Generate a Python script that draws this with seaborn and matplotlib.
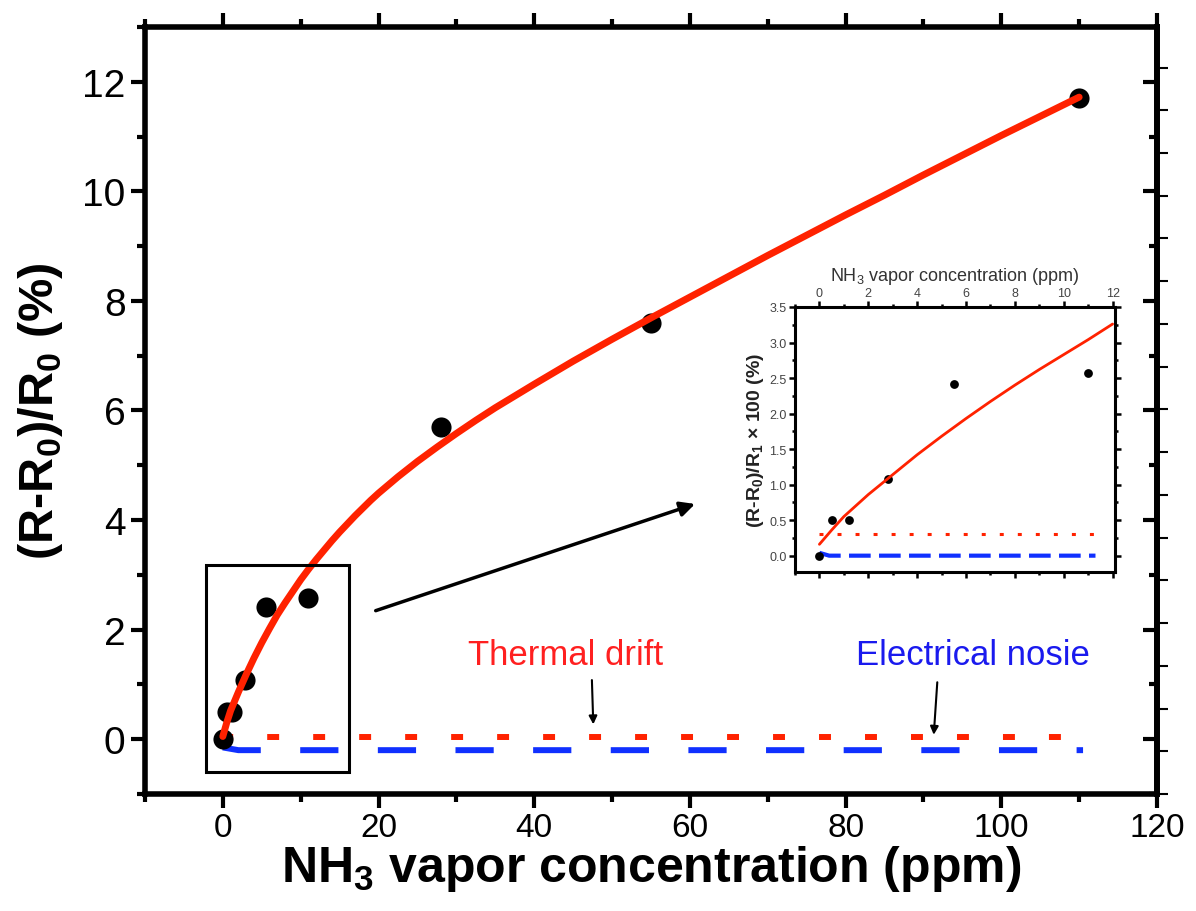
import numpy as np
import pandas as pd
import matplotlib
matplotlib.use("Agg")
import matplotlib.pyplot as plt
from matplotlib.ticker import MultipleLocator, FixedLocator, FormatStrFormatter
from matplotlib.patches import Rectangle
import seaborn as sns

# ---------------- data ----------------
conc = [0, 0.5, 1.2, 2.8, 5.5, 11, 28, 55, 110]
resp = [0, 0.5, 0.5, 1.08, 2.42, 2.57, 5.7, 7.6, 11.7]

fit_x = [0, 0.5, 1, 2, 3, 4, 5, 6, 7, 8, 9, 10, 11, 12, 13, 14, 15, 16, 17,
         18, 19, 20, 22.5, 25, 27.5, 30, 32.5, 35, 40, 45, 50, 55, 60, 65,
         70, 75, 80, 85, 90, 95, 100, 105, 110]
fit_y = [0.05, 0.3, 0.52, 0.86, 1.18, 1.48, 1.76, 2.02, 2.27, 2.49, 2.70,
         2.91, 3.10, 3.28, 3.45, 3.62, 3.78, 3.93, 4.08, 4.22, 4.36, 4.49,
         4.79, 5.07, 5.33, 5.58, 5.82, 6.05, 6.48, 6.90, 7.30, 7.69, 8.07,
         8.45, 8.83, 9.20, 9.57, 9.93, 10.30, 10.66, 11.02, 11.37, 11.72]

drift_x = [0, 110]
drift_y = [0.04, 0.04]
noise_x = [0, 2, 110.5]
noise_y = [-0.15, -0.2, -0.2]

in_conc = [0, 0.5, 1.2, 2.8, 5.5, 11]
in_resp = [0, 0.5, 0.5, 1.08, 2.42, 2.57]
in_fit_x = [0, 0.5, 1, 2, 3, 4, 5, 6, 7, 8, 9, 10, 11, 12]
in_fit_y = [0.16, 0.36, 0.55, 0.86, 1.14, 1.42, 1.68, 1.93, 2.17, 2.40, 2.62,
            2.83, 3.04, 3.26]
in_drift_x = [0, 11.7]
in_drift_y = [0.3, 0.3]
in_noise_x = [0, 0.4, 11.3]
in_noise_y = [0.04, 0.0, 0.0]

xticks_main = [0, 20, 40, 60, 80, 100, 120]
yticks_main = [0, 2, 4, 6, 8, 10, 12]
xticks_in = [0, 2, 4, 6, 8, 10, 12]
yticks_in = [0.0, 0.5, 1.0, 1.5, 2.0, 2.5, 3.0, 3.5]

RED = "#ff2200"
BLUE = "#1030ff"

# ---------------- style ----------------
sns.set_theme(style="ticks")
plt.rcParams["font.family"] = ["Liberation Sans", "DejaVu Sans"]
plt.rcParams["mathtext.fontset"] = "custom"
plt.rcParams["mathtext.rm"] = "Liberation Sans"
plt.rcParams["mathtext.bf"] = "Liberation Sans:bold"
for k in ["axes.edgecolor", "xtick.color", "ytick.color", "text.color",
          "axes.labelcolor"]:
    plt.rcParams[k] = "black"

fig = plt.figure(figsize=(11.96, 9.12), dpi=100)
ax = fig.add_axes([0.1212, 0.1283, 0.8462, 0.8410])

main_df = pd.DataFrame({"conc": conc, "resp": resp})
sns.scatterplot(data=main_df, x="conc", y="resp", ax=ax, s=210, color="black",
                edgecolor="black", linewidth=0, zorder=3)
sns.lineplot(x=drift_x, y=drift_y, ax=ax, color=RED, lw=4.3, sort=False,
             estimator=None, zorder=2)
ax.lines[-1].set_linestyle((0.3, (2.0, 5.7)))
sns.lineplot(x=noise_x, y=noise_y, ax=ax, color=BLUE, lw=4.3, sort=False,
             estimator=None, zorder=2)
ax.lines[-1].set_linestyle((0, (6.4, 6.6)))
sns.lineplot(x=fit_x, y=fit_y, ax=ax, color=RED, lw=5, sort=False,
             estimator=None, zorder=4)
ax.lines[-1].set_solid_joinstyle("round")

ax.set_xlim(-10, 120)
ax.set_ylim(-1, 13)
ax.xaxis.set_major_locator(FixedLocator(xticks_main))
ax.xaxis.set_minor_locator(MultipleLocator(10))
ax.yaxis.set_major_locator(FixedLocator(yticks_main))
ax.yaxis.set_minor_locator(MultipleLocator(1))
ax.tick_params(axis="x", which="both", direction="out", top=True, bottom=True,
               width=3, labelsize=24, pad=3)
ax.tick_params(axis="y", which="both", direction="out", left=True, right=False,
               width=3, labelsize=28, pad=4)
ax.tick_params(which="major", length=10)
ax.tick_params(which="minor", length=6)
for sp in ax.spines.values():
    sp.set_linewidth(4)
    sp.set_visible(True)

# right-side ticks (inward at the main positions, outward at a finer step)
sec_in = ax.secondary_yaxis("right")
sec_in.yaxis.set_major_locator(FixedLocator(yticks_main))
sec_in.yaxis.set_minor_locator(MultipleLocator(1))
sec_in.tick_params(which="both", direction="in", width=3, labelright=False)
sec_in.tick_params(which="major", length=10)
sec_in.tick_params(which="minor", length=6)
sec_in.spines["right"].set_linewidth(4)
sec_out = ax.secondary_yaxis("right")
sec_out.yaxis.set_major_locator(FixedLocator(list(np.arange(-1, 12.5, 0.78))))
sec_out.tick_params(which="major", direction="out", width=1.5, length=8,
                    labelright=False)
sec_out.spines["right"].set_linewidth(4)

ax.set_xlabel("NH$_\\mathbf{3}$ vapor concentration (ppm)", fontsize=36,
              fontweight="bold", labelpad=0)
ax.set_ylabel("(R-R$_\\mathbf{0}$)/R$_\\mathbf{0}$ (%)", fontsize=35,
              fontweight="bold", labelpad=12)

# zoom box and arrow
ax.add_patch(Rectangle((-2.2, -0.6), 18.4, 3.78, fill=False, lw=2.2,
                       edgecolor="black", zorder=5))
ax.annotate("", xy=(61, 4.31), xytext=(19.3, 2.33),
            arrowprops=dict(arrowstyle="-|>", lw=2.5, color="black",
                            mutation_scale=22))

# labels for the baselines
ax.text(44, 1.55, "Thermal drift", color="#ff2020", fontsize=25,
        ha="center", va="center")
ax.annotate("", xy=(47.6, 0.22), xytext=(47.4, 1.13),
            arrowprops=dict(arrowstyle="-|>", lw=1.5, color="black",
                            mutation_scale=12))
ax.text(96.4, 1.55, "Electrical nosie", color="#1a1aee", fontsize=25,
        ha="center", va="center")
ax.annotate("", xy=(91.3, 0.03), xytext=(91.8, 1.09),
            arrowprops=dict(arrowstyle="-|>", lw=1.5, color="black",
                            mutation_scale=12))

# ---------------- inset ----------------
axi = fig.add_axes([0.6647, 0.3717, 0.2676, 0.2906])
in_df = pd.DataFrame({"conc": in_conc, "resp": in_resp})
sns.scatterplot(data=in_df, x="conc", y="resp", ax=axi, s=40, color="black",
                edgecolor="black", linewidth=0, zorder=3)
sns.lineplot(x=in_drift_x, y=in_drift_y, ax=axi, color=RED, lw=2.2,
             sort=False, estimator=None, zorder=2)
axi.lines[-1].set_linestyle((0, (1.3, 4.6)))
sns.lineplot(x=in_noise_x, y=in_noise_y, ax=axi, color=BLUE, lw=3,
             sort=False, estimator=None, zorder=2)
axi.lines[-1].set_linestyle((0, (5.2, 2.0)))
sns.lineplot(x=in_fit_x, y=in_fit_y, ax=axi, color=RED, lw=2, sort=False,
             estimator=None, zorder=4)

axi.set_xlim(-1, 12.1)
axi.set_ylim(-0.23, 3.5)
axi.xaxis.set_major_locator(FixedLocator(xticks_in))
axi.xaxis.set_minor_locator(MultipleLocator(1))
axi.yaxis.set_major_locator(FixedLocator(yticks_in))
axi.yaxis.set_major_formatter(FormatStrFormatter("%.1f"))
axi.yaxis.set_minor_locator(MultipleLocator(0.25))
axi.xaxis.tick_top()
axi.xaxis.set_label_position("top")
axi.tick_params(axis="x", which="both", direction="out", top=True,
                bottom=True, labeltop=True, labelbottom=False, width=1.8,
                labelsize=9, labelcolor="#444444", pad=2)
axi.tick_params(axis="y", which="both", direction="out", left=True,
                right=True, width=1.8, labelsize=9, labelcolor="#444444",
                pad=2)
axi.tick_params(which="major", length=4)
axi.tick_params(which="minor", length=2.5)
for sp in axi.spines.values():
    sp.set_linewidth(2.2)
    sp.set_visible(True)
axi.set_xlabel("NH$_3$ vapor concentration (ppm)", fontsize=13,
               color="#333333", labelpad=5)
axi.set_ylabel("(R-R$_\\mathbf{0}$)/R$_\\mathbf{1}$ × 100 (%)", fontsize=14,
               fontweight="bold", color="#222222", labelpad=2)

fig.savefig("out.png", dpi=100, facecolor="white")
